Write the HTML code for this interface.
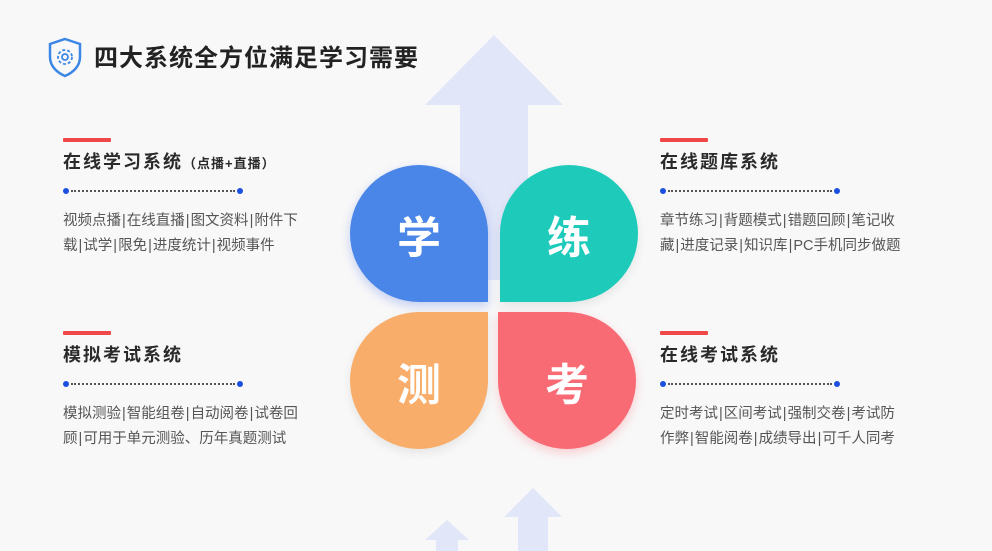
<!DOCTYPE html>
<html><head><meta charset="utf-8"><style>
*{margin:0;padding:0;box-sizing:border-box}
body{width:992px;height:551px;background:#f8f8f8;position:relative;overflow:hidden;font-family:"Liberation Sans","Noto Sans CJK SC",sans-serif}
.abs{position:absolute}
.title{left:94px;top:38px;font-size:24px;font-weight:bold;color:#222;letter-spacing:1px}
.blk{position:absolute;width:300px}
.bar{width:48px;height:4px;background:#f04848;border-radius:1px}
.h{font-size:18px;font-weight:bold;color:#2a2a2a;margin-top:6px;letter-spacing:2px;height:24px}
.h small{font-size:13px;letter-spacing:1px}
.dots{position:relative;margin-top:16px;width:180px;height:6px}
.dots:before{content:"";position:absolute;left:8px;right:8px;top:2px;border-top:2px dotted #555}
.dots i{position:absolute;top:0;width:6px;height:6px;border-radius:50%;background:#1b4fe0}
.body{font-size:14.5px;color:#555;line-height:25px;margin-top:15px;white-space:nowrap;letter-spacing:0}
.body b{font-weight:normal;margin:0 1px}
.pet{position:absolute;width:138px;height:137px;color:#fff;font-size:44px;font-weight:bold;display:flex;align-items:center;justify-content:center}
</style></head><body>
<svg class="abs" style="left:0;top:0" width="992" height="551">
<polygon points="494,35 563,105 528,105 528,280 460,280 460,105 425,105" fill="#e1e6f8"/>
<polygon points="447,520 469,540 458,540 458,551 436,551 436,540 425,540" fill="#e1e6f8"/>
<polygon points="533,488 562,517 548,517 548,551 518,551 518,517 504,517" fill="#e1e6f8"/>
<g transform="translate(48,37)" fill="none" stroke="#3b86e6" stroke-width="2.5">
<path d="M17 2 L32 7 V20 C32 30 24 36 17 39 C10 36 2 30 2 20 V7 Z"/>
<circle cx="17" cy="20" r="3" stroke-width="1.8"/>
<circle cx="17" cy="20" r="7" stroke-width="1.8" stroke-dasharray="3 2"/>
</g>
</svg>
<div class="abs title">四大系统全方位满足学习需要</div>

<div class="blk" style="left:63px;top:138px"><div class="bar"></div><div class="h">在线学习系统<small>（点播+直播）</small></div><div class="dots"><i style="left:0"></i><i style="right:0"></i></div><div class="body">视频点播<b>|</b>在线直播<b>|</b>图文资料<b>|</b>附件下<br>载<b>|</b>试学<b>|</b>限免<b>|</b>进度统计<b>|</b>视频事件</div></div>
<div class="blk" style="left:660px;top:138px"><div class="bar"></div><div class="h">在线题库系统</div><div class="dots"><i style="left:0"></i><i style="right:0"></i></div><div class="body">章节练习<b>|</b>背题模式<b>|</b>错题回顾<b>|</b>笔记收<br>藏<b>|</b>进度记录<b>|</b>知识库<b>|</b>PC手机同步做题</div></div>
<div class="blk" style="left:63px;top:331px"><div class="bar"></div><div class="h">模拟考试系统</div><div class="dots"><i style="left:0"></i><i style="right:0"></i></div><div class="body">模拟测验<b>|</b>智能组卷<b>|</b>自动阅卷<b>|</b>试卷回<br>顾<b>|</b>可用于单元测验、历年真题测试</div></div>
<div class="blk" style="left:660px;top:331px"><div class="bar"></div><div class="h">在线考试系统</div><div class="dots"><i style="left:0"></i><i style="right:0"></i></div><div class="body">定时考试<b>|</b>区间考试<b>|</b>强制交卷<b>|</b>考试防<br>作弊<b>|</b>智能阅卷<b>|</b>成绩导出<b>|</b>可千人同考</div></div>

<div class="pet" style="left:350px;top:165px;background:#4a86e8;border-radius:50% 50% 0 50%;box-shadow:0 4px 10px rgba(74,110,232,.3)">学</div>
<div class="pet" style="left:500px;top:165px;background:#1ecbbb;border-radius:50% 50% 50% 0;box-shadow:0 4px 10px rgba(0,0,0,.08)">练</div>
<div class="pet" style="left:350px;top:312px;background:#f8ae6a;border-radius:50% 0 50% 50%;box-shadow:0 4px 10px rgba(0,0,0,.08)">测</div>
<div class="pet" style="left:498px;top:312px;background:#f96b74;border-radius:0 50% 50% 50%;box-shadow:0 4px 10px rgba(249,107,116,.3)">考</div>
</body></html>
